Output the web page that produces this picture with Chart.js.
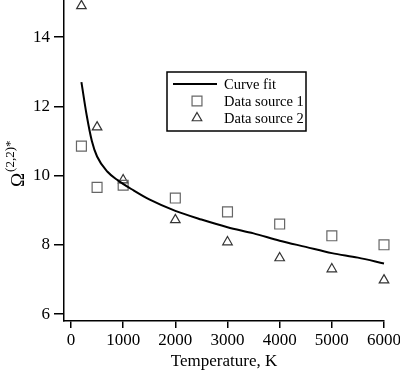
<!DOCTYPE html>
<html>
<head>
<meta charset="utf-8">
<script src="https://cdn.jsdelivr.net/npm/chart.js@4.4.1/dist/chart.umd.min.js"></script>
<style>
  html, body { margin: 0; padding: 0; background: #fff; }
  #wrap { position: relative; width: 400px; height: 374px; }
</style>
</head>
<body>
<div id="wrap"><canvas id="chart"></canvas></div>
<script>
// values
const tempPoints = [200, 500, 1000, 2000, 3000, 4000, 5000, 6000];
const source1 = [10.85, 9.66, 9.72, 9.35, 8.95, 8.6, 8.26, 8.0];
const source2 = [14.9, 11.4, 9.87, 8.72, 8.08, 7.62, 7.3, 6.98];

const fitTemps = [200, 300, 400, 500, 700, 900, 1200, 1500, 2000, 2500, 3000, 3500, 4000, 4500, 5000, 5500, 6000];
const fitValues = [12.7, 11.75, 11.0, 10.55, 10.11, 9.86, 9.57, 9.31, 8.98, 8.73, 8.51, 8.33, 8.12, 7.94, 7.76, 7.63, 7.46];

const xTicks = [0, 1000, 2000, 3000, 4000, 5000, 6000];
const yTicks = [6, 8, 10, 12, 14];

const serif = 'Liberation Serif';

const pts = (xs, ys) => xs.map((x, i) => ({ x: x, y: ys[i] }));

// y axis title with superscript
const yTitlePlugin = {
  id: 'yTitle',
  afterDraw(chart) {
    const ctx = chart.ctx;
    ctx.save();
    ctx.translate(24, 187);
    ctx.rotate(-Math.PI / 2);
    ctx.fillStyle = '#000';
    ctx.textBaseline = 'alphabetic';
    ctx.font = '19px "' + serif + '"';
    ctx.fillText('Ω', 0, 0);
    const w = ctx.measureText('Ω').width;
    ctx.font = '13px "' + serif + '"';
    ctx.fillText('(2,2)*', w + 1, -10);
    ctx.restore();
  }
};

// boxed legend inside the plot
const boxLegend = {
  id: 'boxLegend',
  afterDraw(chart) {
    const ctx = chart.ctx;
    const left = 167, top = 72, width = 139, rowH = 17;
    ctx.save();
    ctx.strokeStyle = '#000';
    ctx.lineWidth = 1.5;
    ctx.strokeRect(left, top, width, 59);
    ctx.font = '14.5px "' + serif + '"';
    ctx.textBaseline = 'middle';
    ctx.fillStyle = '#000';
    chart.data.datasets.forEach((ds, i) => {
      const y = top + 12 + i * rowH;
      if (ds.showLine) {
        ctx.strokeStyle = ds.borderColor;
        ctx.lineWidth = ds.borderWidth;
        ctx.beginPath();
        ctx.moveTo(left + 6, y);
        ctx.lineTo(left + 50, y);
        ctx.stroke();
      } else {
        ctx.strokeStyle = ds.borderColor;
        ctx.fillStyle = '#fff';
        ctx.lineWidth = ds.borderWidth;
        Chart.helpers.drawPoint(ctx, { pointStyle: ds.pointStyle, radius: ds.pointRadius, borderWidth: ds.borderWidth }, left + 30, y);
        ctx.fillStyle = '#000';
      }
      ctx.fillText(ds.label, left + 57, y + 1);
    });
    ctx.restore();
  }
};

new Chart(document.getElementById('chart'), {
  type: 'scatter',
  data: {
    datasets: [
      {
        label: 'Curve fit',
        data: pts(fitTemps, fitValues),
        showLine: true,
        borderColor: '#000',
        borderWidth: 2,
        pointRadius: 0,
        cubicInterpolationMode: 'monotone',
        clip: false,
      },
      {
        label: 'Data source 1',
        data: pts(tempPoints, source1),
        pointStyle: 'rect',
        pointRadius: 7,
        borderColor: '#666',
        backgroundColor: 'rgba(255,255,255,0)',
        borderWidth: 1.2,
        clip: false,
      },
      {
        label: 'Data source 2',
        data: pts(tempPoints, source2),
        pointStyle: 'triangle',
        pointRadius: 5.5,
        borderColor: '#333',
        backgroundColor: 'rgba(255,255,255,0)',
        borderWidth: 1.2,
        clip: false,
      },
    ],
  },
  options: {
    responsive: true,
    maintainAspectRatio: false,
    animation: false,
    layout: { autoPadding: false, padding: { top: 0, right: 16, left: 0, bottom: 0 } },
    plugins: {
      legend: { display: false },
      tooltip: { enabled: false },
    },
    scales: {
      x: {
        type: 'linear',
        min: -134,
        max: 6000,
        afterBuildTicks: (s) => { s.ticks = xTicks.map((v) => ({ value: v })); },
        afterFit: (s) => { s.height = 53; s.paddingLeft = 0; s.paddingRight = 0; },
        grid: { drawOnChartArea: false, drawTicks: true, tickLength: 7, color: '#000', lineWidth: 1.5 },
        border: { color: '#000', width: 1.5 },
        ticks: { color: '#000', font: { family: serif, size: 17 }, padding: 2, maxRotation: 0, callback: (v) => String(v) },
        title: { display: true, text: 'Temperature, K', color: '#000', font: { family: serif, size: 17 }, padding: { top: 0, bottom: 2 } },
      },
      y: {
        type: 'linear',
        min: 5.8,
        max: 15.07,
        afterBuildTicks: (s) => { s.ticks = yTicks.map((v) => ({ value: v })); },
        afterFit: (s) => { s.width = 64; s.paddingTop = 0; s.paddingBottom = 0; },
        grid: { drawOnChartArea: false, drawTicks: true, tickLength: 10, color: '#000', lineWidth: 1.5 },
        border: { color: '#000', width: 1.5 },
        ticks: { color: '#000', font: { family: serif, size: 17 }, padding: 4, callback: (v) => String(v) },
      },
    },
  },
  plugins: [yTitlePlugin, boxLegend],
});
</script>
</body>
</html>
